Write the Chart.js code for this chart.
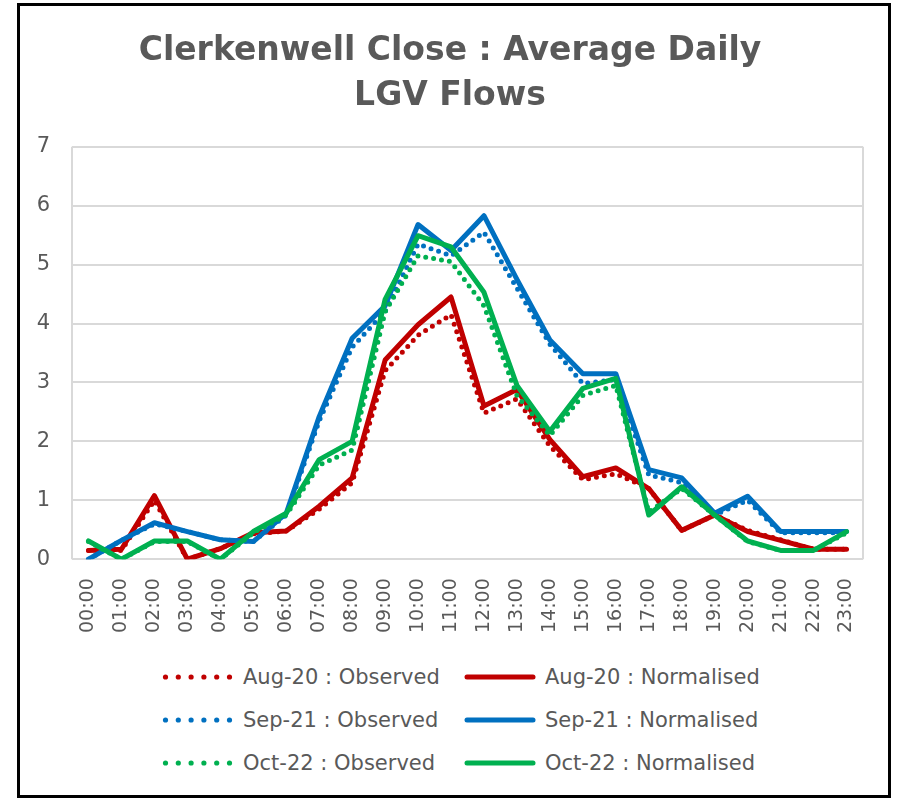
<!DOCTYPE html>
<html>
<head>
<meta charset="utf-8">
<script src="https://cdn.jsdelivr.net/npm/chart.js@4/dist/chart.umd.min.js"></script>
<style>
  body { margin: 0; background: #fff; font-family: "DejaVu Sans", sans-serif; }
  .frame {
    position: absolute; left: 17px; top: 3px;
    width: 868px; height: 789px;
    border: 3px solid #000;
  }
  .chart-box { position: absolute; left: 20px; top: 6px; width: 868px; height: 646px; }
  .legend-item {
    position: absolute; height: 30px; display: flex; align-items: center;
    font-size: 21px; color: #595959; white-space: nowrap;
  }
  .legend-item svg { margin-right: 7px; }
</style>
</head>
<body>
<div class="frame"></div>
<div class="chart-box"><canvas id="js-flows"></canvas></div>
<div id="js-legend"></div>

<script>
"use strict";

const hours = ["00:00", "01:00", "02:00", "03:00", "04:00", "05:00", "06:00", "07:00", "08:00", "09:00", "10:00", "11:00",
  "12:00", "13:00", "14:00", "15:00", "16:00", "17:00", "18:00", "19:00", "20:00", "21:00", "22:00", "23:00"];

// values
const aug20Observed = [0.15, 0.15, 1.0, 0.0, 0.18, 0.43, 0.48, 0.85, 1.3, 3.2, 3.8, 4.15, 2.48, 2.72, 1.92, 1.35, 1.45, 1.2, 0.49, 0.75, 0.49, 0.33, 0.17, 0.17];
const aug20Normalised = [0.15, 0.17, 1.08, 0.0, 0.18, 0.45, 0.48, 0.9, 1.38, 3.38, 3.98, 4.45, 2.6, 2.88, 2.03, 1.4, 1.55, 1.2, 0.49, 0.75, 0.47, 0.32, 0.17, 0.17];
const sep21Observed = [0.0, 0.32, 0.6, 0.47, 0.33, 0.3, 0.75, 2.35, 3.6, 4.2, 5.35, 5.15, 5.55, 4.6, 3.65, 2.98, 3.05, 1.43, 1.3, 0.75, 1.0, 0.45, 0.45, 0.45];
const sep21Normalised = [0.0, 0.32, 0.62, 0.47, 0.33, 0.3, 0.78, 2.42, 3.75, 4.3, 5.68, 5.24, 5.83, 4.75, 3.72, 3.15, 3.15, 1.52, 1.38, 0.78, 1.07, 0.47, 0.47, 0.47];
const oct22Observed = [0.3, 0.0, 0.3, 0.3, 0.0, 0.45, 0.75, 1.6, 1.85, 4.2, 5.15, 5.05, 4.3, 2.78, 2.1, 2.78, 2.95, 0.8, 1.2, 0.75, 0.3, 0.15, 0.15, 0.45];
const oct22Normalised = [0.31, 0.0, 0.31, 0.31, 0.0, 0.47, 0.78, 1.69, 2.0, 4.41, 5.49, 5.3, 4.53, 2.95, 2.17, 2.9, 3.07, 0.75, 1.23, 0.75, 0.31, 0.15, 0.15, 0.47];

const yTicks = [0, 1, 2, 3, 4, 5, 6, 7];

const RED = "#c00000";
const BLUE = "#0070c0";
const GREEN = "#00b050";
const TEXT = "#595959";
const GRID = "#d9d9d9";

const series = [
  { label: "Aug-20 : Observed", data: aug20Observed, color: RED, dotted: true },
  { label: "Aug-20 : Normalised", data: aug20Normalised, color: RED, dotted: false },
  { label: "Sep-21 : Observed", data: sep21Observed, color: BLUE, dotted: true },
  { label: "Sep-21 : Normalised", data: sep21Normalised, color: BLUE, dotted: false },
  { label: "Oct-22 : Observed", data: oct22Observed, color: GREEN, dotted: true },
  { label: "Oct-22 : Normalised", data: oct22Normalised, color: GREEN, dotted: false },
];

// left + right edges of the plot box (top/bottom come from the y grid)
const plotFrame = {
  id: "plotFrame",
  beforeDatasetsDraw(chart) {
    const { ctx, chartArea } = chart;
    ctx.save();
    ctx.strokeStyle = GRID;
    ctx.lineWidth = 2;
    ctx.beginPath();
    ctx.moveTo(chartArea.left, chartArea.top);
    ctx.lineTo(chartArea.left, chartArea.bottom);
    ctx.moveTo(chartArea.right, chartArea.top);
    ctx.lineTo(chartArea.right, chartArea.bottom);
    ctx.stroke();
    ctx.restore();
  },
};

const ctx = document.getElementById("js-flows").getContext("2d");
const flowsChart = new Chart(ctx, {
  type: "line",
  data: {
    labels: hours,
    datasets: series.map((s, i) => ({
      label: s.label,
      data: s.data,
      borderColor: s.color,
      backgroundColor: s.color,
      borderWidth: 5,
      borderDash: s.dotted ? [0, 8] : [],
      borderCapStyle: "round",
      borderJoinStyle: "round",
      pointRadius: 0,
      tension: 0,
      fill: false,
      order: series.length - i, // later series on top, like Excel
    })),
  },
  options: {
    responsive: true,
    maintainAspectRatio: false,
    animation: false,
    layout: {
      padding: { left: 17, right: 25, top: 0, bottom: 0 },
    },
    scales: {
      x: {
        offset: true,
        grid: { display: false, drawTicks: false },
        border: { display: false },
        ticks: {
          color: TEXT,
          font: { family: "DejaVu Sans", size: 19 },
          minRotation: 90,
          maxRotation: 90,
          autoSkip: false,
          padding: 19,
        },
        afterFit: (scale) => {
          scale.paddingLeft = 0;
          scale.paddingRight = 0;
        },
      },
      y: {
        min: 0,
        max: 7,
        afterBuildTicks: (axis) => {
          axis.ticks = yTicks.map((v) => ({ value: v }));
        },
        // fixed axis width so the plot starts where the reference's does
        afterFit: (scale) => {
          scale.width = 35;
        },
        grid: { color: GRID, lineWidth: 2, drawTicks: false },
        border: { display: false },
        ticks: {
          color: TEXT,
          font: { family: "DejaVu Sans", size: 21 },
          padding: 22,
        },
      },
    },
    plugins: {
      legend: { display: false },
      tooltip: { enabled: false },
      title: {
        display: true,
        text: ["Clerkenwell Close : Average Daily", "LGV Flows"],
        color: TEXT,
        font: { family: "DejaVu Sans", size: 33, weight: "bold", lineHeight: 1.36 },
        padding: { top: 23, bottom: 28 },
      },
    },
  },
  plugins: [plotFrame],
});

// legend: two columns, three rows
function createLegend(items, appendArea) {
  const colX = [160, 462];
  const rowY = [662, 705, 748];
  items.forEach((s, i) => {
    const div = document.createElement("div");
    div.className = "legend-item";
    div.style.left = colX[i % 2] + "px";
    div.style.top = rowY[Math.floor(i / 2)] + "px";
    let swatch = "";
    if (s.dotted) {
      for (let k = 0; k < 6; k++) {
        swatch += `<circle cx="${5.5 + k * 12.8}" cy="6" r="2.6" fill="${s.color}"/>`;
      }
    } else {
      swatch = `<line x1="5" y1="6" x2="71" y2="6" stroke="${s.color}" stroke-width="5" stroke-linecap="round"/>`;
    }
    div.innerHTML = `<svg width="76" height="12">${swatch}</svg><span>${s.label}</span>`;
    appendArea.appendChild(div);
  });
}
createLegend(series, document.getElementById("js-legend"));
</script>
</body>
</html>
